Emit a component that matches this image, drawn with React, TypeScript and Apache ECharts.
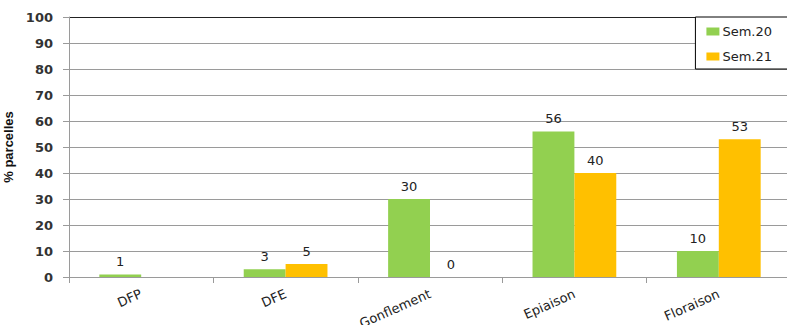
import React, { useEffect, useRef } from "react";
import * as echarts from "echarts";

const categories = ["DFP", "DFE", "Gonflement", "Epiaison", "Floraison"];
const sem20 = [1, 3, 30, 56, 10];
const sem21: (number | null)[] = [null, 5, 0, 40, 53];
const seriesNames = ["Sem.20", "Sem.21"];
const yTicks = { min: 0, max: 100, interval: 10 };

export default function App() {
  const ref = useRef<HTMLDivElement>(null);
  useEffect(() => {
    if (!ref.current) return;
    const chart = echarts.init(ref.current, undefined, { renderer: "svg" });
    const font = "DejaVu Sans";
    const splitColors = ["#9a9a9a", "#9a9a9a", "#9a9a9a", "#9a9a9a", "#9a9a9a", "#9a9a9a", "#9a9a9a", "#9a9a9a", "#9a9a9a", "#9a9a9a", "#222"];
    chart.setOption({
      animation: false,
      backgroundColor: "#fff",
      textStyle: { fontFamily: font },
      grid: { left: 69, right: -4, top: 17, bottom: 48, containLabel: false, outerBoundsMode: "none" },
      legend: {
        orient: "vertical",
        right: -5,
        top: 17,
        itemWidth: 13,
        itemHeight: 8,
        itemGap: 10,
        padding: [7, 20, 5, 11],
        borderColor: "#000",
        borderWidth: 1,
        backgroundColor: "#fff",
        icon: "rect",
        data: seriesNames,
        textStyle: { fontFamily: font, fontSize: 13, lineHeight: 15, color: "#222", padding: [0, 0, 0, -2] },
      },
      xAxis: {
        type: "category",
        data: categories,
        axisLine: { show: true, lineStyle: { color: "#9a9a9a", width: 1 } },
        axisTick: { show: true, alignWithLabel: false, length: 6, lineStyle: { color: "#9a9a9a" } },
        axisLabel: { rotate: 24, fontFamily: font, fontSize: 13, color: "#222", margin: 16 },
      },
      yAxis: {
        type: "value",
        min: yTicks.min,
        max: yTicks.max,
        interval: yTicks.interval,
        name: "% parcelles",
        nameLocation: "middle",
        nameGap: 45,
        nameRotate: 90,
        nameTextStyle: { fontFamily: "Liberation Sans", fontSize: 13, fontWeight: "bold", color: "#111" },
        axisLine: { show: true, lineStyle: { color: "#9a9a9a" } },
        axisTick: { show: true, length: 6, lineStyle: { color: "#9a9a9a" } },
        axisLabel: { fontFamily: font, fontSize: 13, fontWeight: "bold", color: "#333", margin: 16 },
        splitLine: { show: true, lineStyle: { color: splitColors, width: 1 } },
      },
      series: [
        {
          name: seriesNames[0],
          type: "bar",
          data: sem20,
          itemStyle: { color: "#92D050" },
          barGap: "0%",
          barCategoryGap: "42%",
          label: { show: true, position: "top", distance: 6, fontFamily: font, fontSize: 13, color: "#222" },
        },
        {
          name: seriesNames[1],
          type: "bar",
          data: sem21,
          itemStyle: { color: "#FFC000" },
          barGap: "0%",
          barCategoryGap: "42%",
          label: { show: true, position: "top", distance: 6, fontFamily: font, fontSize: 13, color: "#222" },
        },
      ],
    });
    return () => chart.dispose();
  }, []);
  return <div ref={ref} style={{ width: 787, height: 325, position: "absolute", left: 0, top: 0 }} />;
}
